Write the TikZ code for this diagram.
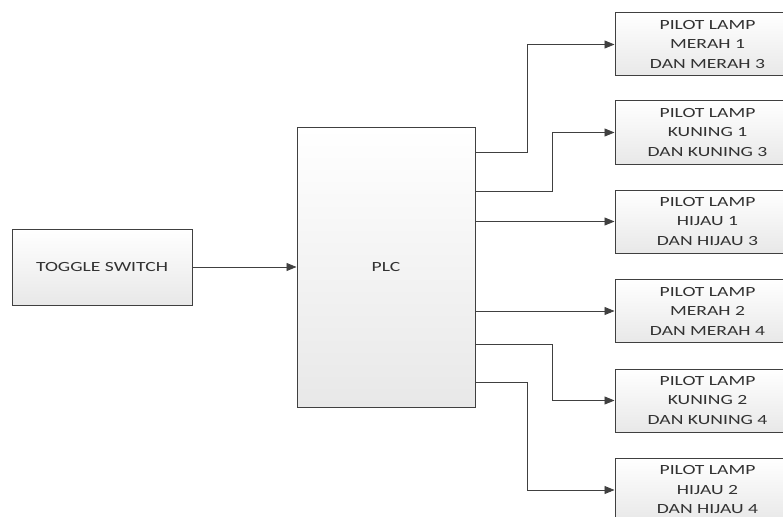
\documentclass[tikz,border=0pt]{standalone}
\usepackage{fontspec}
\setmainfont{Carlito}
\newfontfamily\widefont[FakeStretch=1.4]{Carlito}
\usetikzlibrary{arrows.meta,positioning,calc}
\definecolor{edge}{RGB}{64,64,64}
\definecolor{boxbot}{RGB}{232,232,232}
\definecolor{txt}{RGB}{50,50,50}

\tikzset{
  block/.style={draw=edge,line width=1pt,top color=white,bottom color=boxbot,
    inner sep=0pt,align=center,text=txt,font=\widefont\fontsize{14}{19.5}\selectfont},
  lampbox/.style={block,minimum width=185pt,minimum height=63pt},
  arr/.style={draw=edge,line width=0.9pt,-{Triangle[length=10pt,width=8pt]}}
}

\begin{document}
\begin{tikzpicture}[x=1pt,y=-1pt]
  \useasboundingbox (0,0) rectangle (783,516);
  \clip (0,0) rectangle (783,516);
  % input and controller
  \node[block,minimum width=180pt,minimum height=76pt] (toggle) at (102,267) {TOGGLE SWITCH};
  \node[block,minimum width=178pt,minimum height=280pt] (plc) at (386,267) {PLC};
  % pilot lamps
  \node[lampbox] (lamp1) at (707.5,44.5) {PILOT LAMP\\MERAH 1\\DAN MERAH 3};
  \node[lampbox] (lamp2) at (707.5,132.5) {PILOT LAMP\\KUNING 1\\DAN KUNING 3};
  \node[lampbox] (lamp3) at (707.5,221.5) {PILOT LAMP\\HIJAU 1\\DAN HIJAU 3};
  \node[lampbox] (lamp4) at (707.5,311) {PILOT LAMP\\MERAH 2\\DAN MERAH 4};
  \node[lampbox] (lamp5) at (707.5,400.5) {PILOT LAMP\\KUNING 2\\DAN KUNING 4};
  \node[lampbox] (lamp6) at (707.5,490) {PILOT LAMP\\HIJAU 2\\DAN HIJAU 4};
  % outputs on the PLC
  \coordinate (out1) at (plc.east |- 0,152);
  \coordinate (out2) at (plc.east |- 0,191);
  \coordinate (out5) at (plc.east |- 0,344);
  \coordinate (out6) at (plc.east |- 0,382);
  \draw[arr] (toggle) -- (plc);
  \draw[arr] (out1) -- ++(52,0) |- (lamp1.west);
  \draw[arr] (out2) -- ++(77,0) |- (lamp2.west);
  \draw[arr] (plc.east |- lamp3) -- (lamp3.west);
  \draw[arr] (plc.east |- lamp4) -- (lamp4.west);
  \draw[arr] (out5) -- ++(77,0) |- (lamp5.west);
  \draw[arr] (out6) -- ++(52,0) |- (lamp6.west);
\end{tikzpicture}
\end{document}
